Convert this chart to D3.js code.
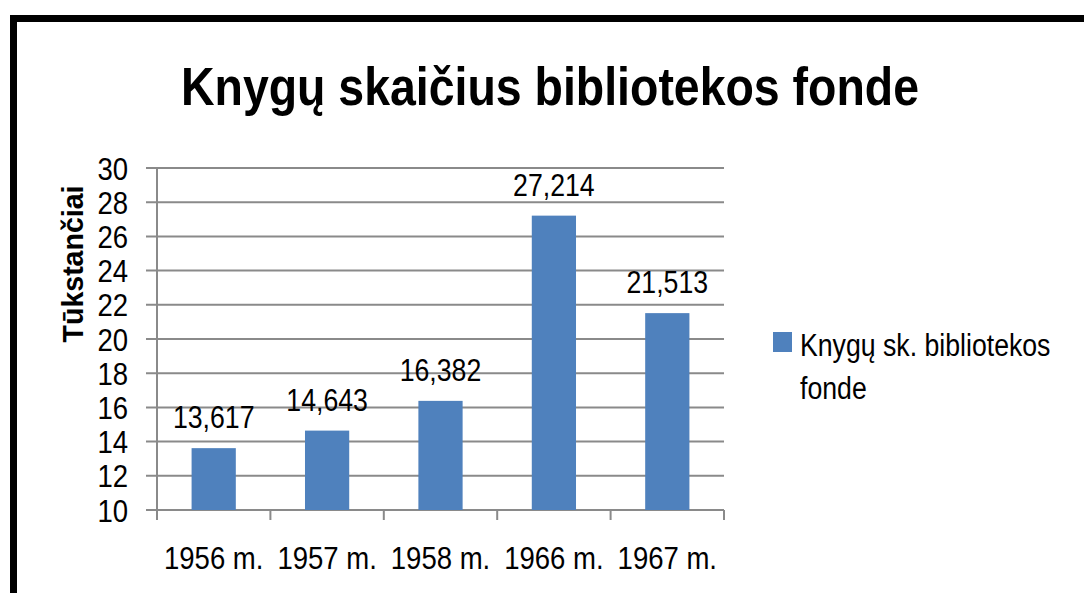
<!DOCTYPE html>
<html><head><meta charset="utf-8">
<script src="https://cdn.jsdelivr.net/npm/d3@7"></script>
<style>body{margin:0;background:#fff}svg{display:block}text{font-family:"Liberation Sans",Arial,sans-serif}</style>
</head><body><svg id="c" width="1084" height="593"></svg>
<script>
const title = "Knygų skaičius bibliotekos fonde";
const yTitle = "Tūkstančiai";
const seriesName = ["Knygų sk. bibliotekos", "fonde"];
const categories = ["1956 m.", "1957 m.", "1958 m.", "1966 m.", "1967 m."];
const values = [13.617, 14.643, 16.382, 27.214, 21.513];
const valueLabels = ["13,617", "14,643", "16,382", "27,214", "21,513"];
const yTicks = [10, 12, 14, 16, 18, 20, 22, 24, 26, 28, 30];

const svg = d3.select("#c");
const L = 157, R = 724, T = 168, B = 510;
const barColor = "#4f81bd", gridColor = "#8a8a8a";
const squeeze = 0.86;

function fit(sel, f) { sel.each(function(){ const w = this.getComputedTextLength(); d3.select(this).attr("textLength", w * f).attr("lengthAdjust", "spacingAndGlyphs"); }); }

// frame
svg.append("rect").attr("x", 13.5).attr("y", 18.5).attr("width", 1300).attr("height", 800)
  .attr("fill", "none").attr("stroke", "#000").attr("stroke-width", 7);

const x = d3.scaleBand().domain(categories).range([L, R]).paddingInner(0.61).paddingOuter(0.305);
const y = d3.scaleLinear().domain([10, 30]).range([B, T]);

// gridlines
svg.append("g").selectAll("line").data(yTicks).join("line")
  .attr("x1", L - 11).attr("x2", R).attr("y1", d => y(d)).attr("y2", d => y(d))
  .attr("stroke", gridColor).attr("stroke-width", 2);

// y axis line
svg.append("line").attr("x1", L).attr("x2", L).attr("y1", T).attr("y2", B + 10)
  .attr("stroke", gridColor).attr("stroke-width", 2);
// x ticks at band boundaries
const bounds = d3.range(categories.length + 1).map(i => x.range()[0] + i * x.step());
svg.append("g").selectAll("line").data(bounds.slice(1)).join("line")
  .attr("x1", d => d).attr("x2", d => d).attr("y1", B).attr("y2", B + 10)
  .attr("stroke", gridColor).attr("stroke-width", 2);

// y tick labels
svg.append("g").selectAll("text").data(yTicks).join("text")
  .attr("x", 128).attr("y", d => y(d)).attr("dy", "0.36em").attr("text-anchor", "end")
  .attr("font-size", 32).attr("fill", "#000").text(d => d).call(fit, squeeze);

// bars
svg.append("g").selectAll("rect").data(values).join("rect")
  .attr("x", (d, i) => x(categories[i])).attr("width", x.bandwidth())
  .attr("y", d => y(d)).attr("height", d => B - y(d)).attr("fill", barColor);

// value labels
svg.append("g").selectAll("text").data(values).join("text")
  .attr("x", (d, i) => x(categories[i]) + x.bandwidth() / 2).attr("y", d => y(d) - 20)
  .attr("text-anchor", "middle").attr("font-size", 31).attr("fill", "#000")
  .text((d, i) => valueLabels[i]).call(fit, squeeze);

// x labels
svg.append("g").selectAll("text").data(categories).join("text")
  .attr("x", d => x(d) + x.bandwidth() / 2).attr("y", 569)
  .attr("text-anchor", "middle").attr("font-size", 32).attr("fill", "#000")
  .text(d => d).call(fit, squeeze);

// title
svg.append("text").attr("x", 550).attr("y", 105).attr("text-anchor", "middle")
  .attr("font-size", 54).attr("font-weight", "bold").attr("fill", "#000").text(title)
  .call(fit, 0.86);

// y title
svg.append("text").attr("transform", "translate(83,264) rotate(-90)").attr("text-anchor", "middle")
  .attr("font-size", 30).attr("font-weight", "bold").attr("fill", "#000").text(yTitle)
  .call(fit, 0.95);

// legend
svg.append("rect").attr("x", 773).attr("y", 332).attr("width", 19).attr("height", 20).attr("fill", barColor);
svg.append("g").selectAll("text").data(seriesName).join("text")
  .attr("x", 800).attr("y", (d, i) => 356 + i * 43).attr("font-size", 31).attr("fill", "#000")
  .text(d => d).call(fit, squeeze);
</script></body></html>
